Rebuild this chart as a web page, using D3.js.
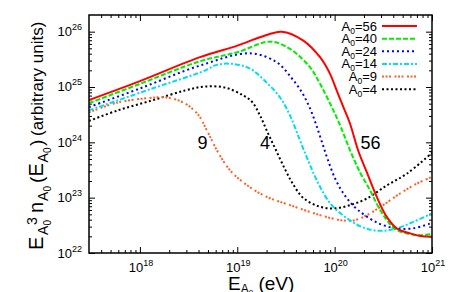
<!DOCTYPE html>
<html>
<head>
<meta charset="utf-8">
<script src="https://cdn.jsdelivr.net/npm/d3@7"></script>
<style>
body { margin: 0; background: #fff; }
svg { display: block; font-family: "Liberation Sans", Arial, Helvetica, sans-serif; }
</style>
</head>
<body>
<div class="chart"></div>
<script>
// energies (eV) and E^3 n(E) values, one pair of arrays per A0
var energy56 = [3e17, 1e18, 4.14e18, 1e19, 1.71e19, 2.86e19, 4.77e19, 7.08e19, 8.97e19, 1.05e20, 1.23e20, 1.44e20, 1.74e20, 2.14e20, 2.71e20, 3.43e20, 4.34e20, 5.96e20, 7.55e20, 1e21];
var flux56 = [5.83e24, 1.28e25, 3.46e25, 5.6e25, 7.9e25, 1.0e26, 6.9e25, 3.45e25, 1.73e25, 8.65e24, 4.33e24, 2.17e24, 7.2e23, 2.88e23, 1.03e23, 4.5e22, 2.79e22, 2.26e22, 2.02e22, 1.97e22];

var energy40 = [3e17, 1e18, 4.14e18, 1e19, 2.17e19, 3.48e19, 5.59e19, 7.08e19, 8.97e19, 1.14e20, 1.44e20, 1.82e20, 2.31e20, 2.79e20, 3.38e20, 4.18e20, 5.55e20, 7.55e20, 1e21];
var flux40 = [5.1e24, 1.14e25, 2.92e25, 4.24e25, 6.6e25, 4.88e25, 2.27e25, 1.14e25, 5.05e24, 2.02e24, 7.18e23, 2.88e23, 1.36e23, 7.03e22, 4.1e22, 2.7e22, 2.26e22, 2.1e22, 2.2e22];

var energy24 = [3e17, 1e18, 4.14e18, 1.35e19, 2.54e19, 3.65e19, 4.62e19, 5.59e19, 6.44e19, 7.42e19, 8.55e19, 1.03e20, 1.31e20, 1.74e20, 2.79e20, 4.28e20, 6.4e20, 1e21];
var flux24 = [4.33e24, 9.4e24, 2.44e25, 4.06e25, 2.8e25, 1.42e25, 7.96e24, 4.1e24, 2.11e24, 1.0e24, 4.74e23, 2.07e23, 1.02e23, 5.96e22, 3.47e22, 2.79e22, 2.79e22, 3.5e22];

var energy14 = [3e17, 1.32e18, 4.66e18, 6.14e18, 8.75e18, 1.35e19, 2.0e19, 2.75e19, 3.48e19, 4.4e19, 5.33e19, 6.55e19, 8.97e19, 1.33e20, 1.97e20, 2.93e20, 4.34e20, 6.44e20, 1e21];
var flux14 = [3.78e24, 9.3e24, 1.98e25, 2.51e25, 2.62e25, 2.15e25, 1.2e25, 6.47e24, 3.06e24, 1.09e24, 4.74e23, 2.07e23, 7.96e22, 4.27e22, 2.88e22, 2.52e22, 2.79e22, 3.66e22, 5.19e22];

var energy9 = [3e17, 5.94e17, 1.27e18, 1.89e18, 2.9e18, 3.94e18, 4.88e18, 6.18e18, 8.41e18, 1.26e19, 2.02e19, 3.48e19, 7.08e19, 1.14e20, 1.55e20, 2.15e20, 3.14e20, 4.7e20, 7.0e20, 1e21];
var flux9 = [3.47e24, 5.26e24, 6.34e24, 6.47e24, 5.05e24, 3.2e24, 1.64e24, 7.18e23, 3.13e23, 1.68e23, 1.03e23, 7.33e22, 4.84e22, 3.93e22, 3.85e22, 4.84e22, 7.33e22, 1.19e23, 1.8e23, 2.37e23];

var energy4 = [3e17, 5.94e17, 1.33e18, 2.9e18, 4.66e18, 7.65e18, 1.15e19, 1.42e19, 1.71e19, 2.07e19, 2.5e19, 3.09e19, 3.74e19, 4.73e19, 6.75e19, 9.6e19, 1.44e20, 2.15e20, 3.46e20, 5.55e20, 1e21];
var flux4 = [2.44e24, 3.78e24, 5.71e24, 8.65e24, 1.02e25, 9.68e24, 7.03e24, 5.37e24, 3.06e24, 1.45e24, 7.18e23, 3.27e23, 1.75e23, 1.0e23, 7.03e22, 6.39e22, 7.33e22, 9.68e22, 1.68e23, 2.73e23, 6.47e23];

var massNumbers = ['56', '40', '24', '14', '9', '4'];
var xTickExps = [18, 19, 20, 21];
var yTickExps = [22, 23, 24, 25, 26];

var series = [
    { a: '56', e: energy56, v: flux56, color: '#ff0000', dash: null },
    { a: '40', e: energy40, v: flux40, color: '#00ee00', dash: '5,2' },
    { a: '24', e: energy24, v: flux24, color: '#0000ff', dash: '2,3' },
    { a: '14', e: energy14, v: flux14, color: '#00dded', dash: '5,2,2,2' },
    { a: '9', e: energy9, v: flux9, color: '#ff6028', dash: '2,1.5,2,1.5,2,3.5' },
    { a: '4', e: energy4, v: flux4, color: '#000000', dash: '2,2.5' }
];

var width = 454, height = 292;
var plot = { left: 89, right: 432, top: 15, bottom: 253 };

var x = d3.scaleLog().domain([3e17, 1e21]).range([plot.left, plot.right]);
var y = d3.scaleLog().domain([1e22, 2e26]).range([plot.bottom, plot.top]);

var svg = d3.select('div.chart').append('svg')
    .attr('width', width)
    .attr('height', height);

// minor / major tick values
var xMajor = xTickExps.map(function (p) { return Math.pow(10, p); });
var yMajor = yTickExps.map(function (p) { return Math.pow(10, p); });
var xMinor = [];
[17, 18, 19, 20].forEach(function (p) {
    for (var k = 2; k <= 9; k++) {
        var t = k * Math.pow(10, p);
        if (t > 3e17 && t < 1e21) xMinor.push(t);
    }
});
var yMinor = [];
[22, 23, 24, 25].forEach(function (p) {
    for (var k = 2; k <= 9; k++) yMinor.push(k * Math.pow(10, p));
});

function tickAxis(axis, values, size, transform) {
    var g = svg.append('g')
        .attr('transform', transform)
        .call(axis.tickValues(values).tickSize(size).tickSizeOuter(0).tickFormat(''));
    g.select('.domain').remove();
    g.selectAll('line').attr('stroke', '#000').attr('stroke-width', 1);
}

tickAxis(d3.axisBottom(x), xMajor, -6, 'translate(0,' + plot.bottom + ')');
tickAxis(d3.axisBottom(x), xMinor, -3, 'translate(0,' + plot.bottom + ')');
tickAxis(d3.axisTop(x), xMajor, -6, 'translate(0,' + plot.top + ')');
tickAxis(d3.axisTop(x), xMinor, -3, 'translate(0,' + plot.top + ')');
tickAxis(d3.axisLeft(y), yMajor, -6, 'translate(' + plot.left + ',0)');
tickAxis(d3.axisLeft(y), yMinor, -3, 'translate(' + plot.left + ',0)');
tickAxis(d3.axisRight(y), yMajor, -6, 'translate(' + plot.right + ',0)');
tickAxis(d3.axisRight(y), yMinor, -3, 'translate(' + plot.right + ',0)');

// curves
svg.append('clipPath').attr('id', 'clip')
    .append('rect')
    .attr('x', plot.left).attr('y', plot.top)
    .attr('width', plot.right - plot.left).attr('height', plot.bottom - plot.top);

var line = d3.line()
    .x(function (d) { return x(d[0]); })
    .y(function (d) { return y(d[1]); })
    .curve(d3.curveCatmullRom.alpha(0.5));

var curves = svg.append('g').attr('clip-path', 'url(#clip)');
series.slice().reverse().forEach(function (s) {
    curves.append('path')
        .attr('d', line(d3.zip(s.e, s.v)))
        .attr('fill', 'none')
        .attr('stroke', s.color)
        .attr('stroke-width', 2)
        .attr('stroke-dasharray', s.dash);
});

// frame
svg.append('rect')
    .attr('x', plot.left).attr('y', plot.top)
    .attr('width', plot.right - plot.left).attr('height', plot.bottom - plot.top)
    .attr('fill', 'none')
    .attr('stroke', '#000')
    .attr('stroke-width', 1.5);

// tick labels
svg.selectAll('text.ylab')
    .data(yTickExps)
    .enter().append('text')
    .attr('class', 'ylab')
    .attr('x', plot.left - 7)
    .attr('y', function (d) { return y(Math.pow(10, d)) + 4.5; })
    .attr('text-anchor', 'end')
    .attr('font-size', 13)
    .each(function (d) {
        var t = d3.select(this);
        t.append('tspan').text('10');
        t.append('tspan').attr('dy', -6).attr('font-size', 9).text(d);
    });

svg.selectAll('text.xlab')
    .data(xTickExps)
    .enter().append('text')
    .attr('class', 'xlab')
    .attr('x', function (d) { return x(Math.pow(10, d)) + 1; })
    .attr('y', 271.5)
    .attr('text-anchor', 'middle')
    .attr('font-size', 13)
    .each(function (d) {
        var t = d3.select(this);
        t.append('tspan').text('10');
        t.append('tspan').attr('dy', -6).attr('font-size', 9).text(d);
    });

// x title: E_A0 (eV)
var xt = svg.append('text').attr('x', 228).attr('y', 290).attr('font-size', 19);
xt.append('tspan').text('E');
xt.append('tspan').attr('dy', 2.5).attr('font-size', 12).text('A');
xt.append('tspan').attr('dy', 2).attr('font-size', 8).text('0');
xt.append('tspan').attr('dy', -4.5).text(' (eV)');

// y title: E_A0^3 n_A0(E_A0) (arbitrary units), drawn along the rotated axis
var yt = svg.append('g').attr('transform', 'translate(43,250) rotate(-90)');
function yPiece(u, v, size, str) {
    yt.append('text').attr('x', u).attr('y', v).attr('font-size', size).text(str);
}
yPiece(0, 0, 20, 'E');
yPiece(15, 5, 14, 'A');
yPiece(24.5, 8, 10, '0');
yPiece(25, -6, 14, '3');
yPiece(37, 0, 20, 'n');
yPiece(49, 5, 14, 'A');
yPiece(58.5, 8, 10, '0');
yPiece(67, 0, 19, '(');
yPiece(73.5, 0, 20, 'E');
yPiece(87.5, 5, 14, 'A');
yPiece(97, 8, 10, '0');
yPiece(104, 0, 19, ')');
yPiece(114, 0, 17, '(arbitrary units)');

// legend
var legend = svg.append('g');
series.forEach(function (s, i) {
    var cy = 26 + i * 12.65;
    var t = legend.append('text')
        .attr('x', 377)
        .attr('y', cy + 4.5)
        .attr('text-anchor', 'end')
        .attr('font-size', 13);
    t.append('tspan').text('A');
    t.append('tspan').attr('dy', 3).attr('font-size', 8.5).text('0');
    t.append('tspan').attr('dy', -3).text('=' + massNumbers[i]);
    legend.append('line')
        .attr('x1', 382).attr('x2', 417)
        .attr('y1', cy).attr('y2', cy)
        .attr('stroke', s.color)
        .attr('stroke-width', 2)
        .attr('stroke-dasharray', s.dash);
});

// curve labels
var curveLabels = [
    { text: '9', at: 4.4e18 },
    { text: '4', at: 1.93e19 },
    { text: '56', at: 2.34e20 }
];
svg.selectAll('text.clab')
    .data(curveLabels)
    .enter().append('text')
    .attr('class', 'clab')
    .attr('x', function (d) { return x(d.at); })
    .attr('y', 149)
    .attr('text-anchor', 'middle')
    .attr('font-size', 18)
    .text(function (d) { return d.text; });
</script>
</body>
</html>
